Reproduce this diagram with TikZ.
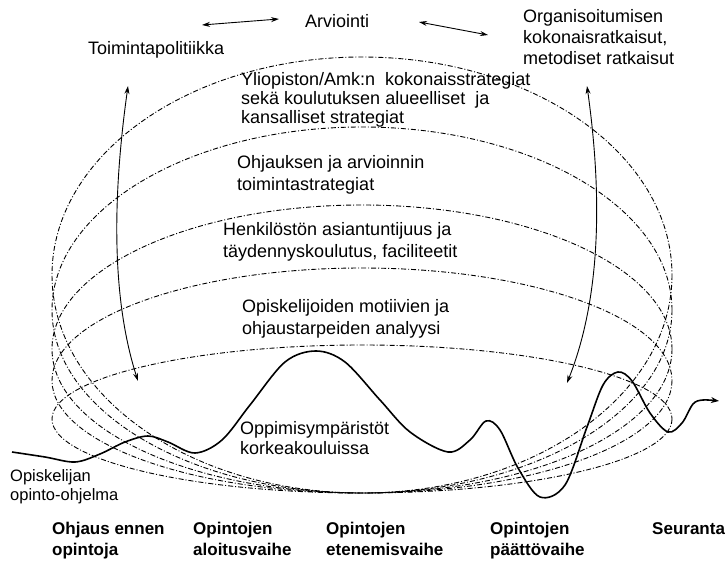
\documentclass[tikz,border=0pt]{standalone}
\usepackage{fontspec}
\setmainfont{Liberation Sans}
\usetikzlibrary{arrows.meta}
\begin{document}
\begin{tikzpicture}[x=1pt,y=-1pt,
  layer/.style={line width=0.9pt,dash pattern=on 5pt off 2pt on 1pt off 2pt},
  lbl/.style={anchor=base west,inner sep=0pt,align=left,font=\fontsize{18}{20.5}\selectfont},
  small/.style={anchor=base west,inner sep=0pt,align=left,font=\fontsize{16.5}{19}\selectfont},
  phase/.style={anchor=base west,inner sep=0pt,align=left,font=\bfseries\fontsize{17}{21}\selectfont},
  arr/.style={line width=0.9pt,{Stealth[length=8pt,width=5pt]}-{Stealth[length=8pt,width=5pt]}},
  wave/.style={line width=1.6pt}]
\useasboundingbox (0,0) rectangle (725,561);
% nested layers (common bottom at y=493)
\foreach \t/\n in {57/e1,127/e2,205/e3,268/e4,345/e5}{
  \path[layer,draw] (362,{(\t+493)/2}) ellipse ({310} and {(493-\t)/2});
}
% texts (anchor = baseline of last line)
\node[lbl] (arv) at (305,28) {Arviointi};
\node[lbl] (toim) at (88,55) {Toimintapolitiikka};
\node[lbl,font=\fontsize{18}{21}\selectfont] (org) at (523,65) {Organisoitumisen\\kokonaisratkaisut,\\metodiset ratkaisut};
\node[lbl,font=\fontsize{18}{19}\selectfont] (yli) at (241,124) {Yliopiston/Amk:n\ \ kokonaisstrategiat\\sekä koulutuksen alueelliset\ \ ja\\kansalliset strategiat};
\node[lbl,font=\fontsize{18}{22}\selectfont] (ohj) at (237,191) {Ohjauksen ja arvioinnin\\toimintastrategiat};
\node[lbl,font=\fontsize{18}{22}\selectfont] (hen) at (223,258) {Henkilöstön asiantuntijuus ja\\täydennyskoulutus, faciliteetit};
\node[lbl,font=\fontsize{18}{21}\selectfont] (opi) at (242,334) {Opiskelijoiden motiivien ja\\ohjaustarpeiden analyysi};
\node[lbl,font=\fontsize{18}{20}\selectfont] (opp) at (240,454) {Oppimisympäristöt\\korkeakouluissa};
\node[small] (ohjelma) at (10,500) {Opiskelijan\\opinto-ohjelma};
\node[phase] (p1) at (52,555) {Ohjaus ennen\\opintoja};
\node[phase] (p2) at (193,555) {Opintojen\\aloitusvaihe};
\node[phase] (p3) at (326,555) {Opintojen\\etenemisvaihe};
\node[phase] (p4) at (490,555) {Opintojen\\päättövaihe};
\node[phase] (p5) at (652,534) {Seuranta};
% arrow endpoints
\coordinate (tl1) at (202,25); \coordinate (tl2) at (279,19);
\coordinate (tr1) at (419,22); \coordinate (tr2) at (488,35);
\coordinate (la1) at (128,86); \coordinate (la2) at (138,381);
\coordinate (ra1) at (587,86); \coordinate (ra2) at (567,383);
\draw[arr] (tl1) -- (tl2);
\draw[arr] (tr1) -- (tr2);
\draw[arr] (la1) .. controls (112,200) and (112,300) .. (la2);
\draw[arr] (ra1) .. controls (603,200) and (600,300) .. (ra2);
% wave
\coordinate (w0) at (12,452);
\coordinate (wend) at (719,401);
\draw[wave,-{Stealth[length=8pt,width=6pt]}] plot[smooth,tension=0.55] coordinates {
 (12,452) (45,457) (75,462) (100,454) (125,442) (148,436) (168,442) (195,453)
 (222,440) (250,405) (285,362) (316,351) (345,362) (380,400) (410,432) (448,452)
 (470,440) (486,421) (500,430) (518,468) (540,497) (565,485) (587,427) (603,385)
 (618,372) (632,381) (650,413) (668,432) (682,423) (693,404) (703,400) (719,401)};
\end{tikzpicture}
\end{document}
